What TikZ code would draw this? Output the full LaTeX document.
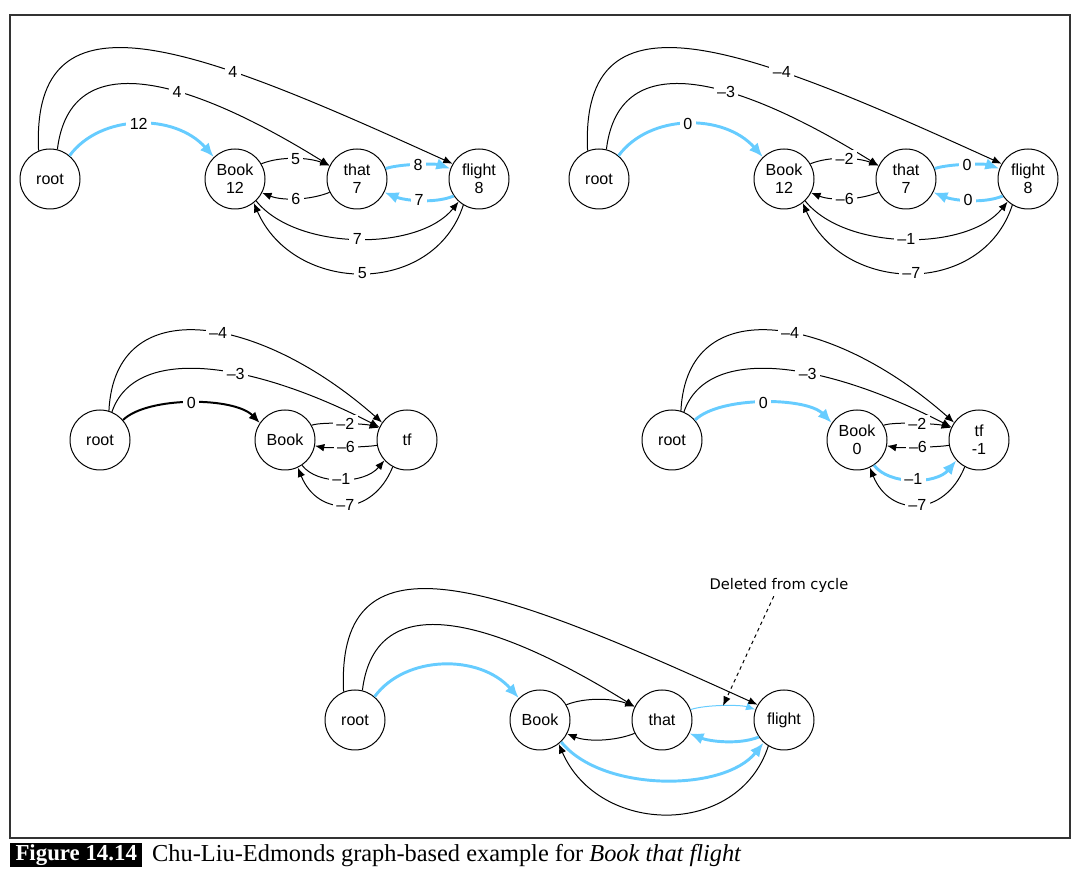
\documentclass[tikz,border=0pt]{standalone}
\usepackage{fontspec}
\setmainfont{Liberation Sans}
\newfontfamily\capfont{Liberation Serif}
\newfontfamily\notefont{DejaVu Sans}
\usetikzlibrary{arrows.meta}
\definecolor{treeblue}{RGB}{102,204,255}
\tikzset{
  word/.style={circle, draw, line width=0.85pt, minimum size=1.8cm, inner sep=0pt,
    align=center, font=\fontsize{13.7}{15.6}\selectfont},
  arc/.style={line width=0.85pt, -{Latex[length=8pt,width=6.5pt]}},
  heavy/.style={line width=1.7pt, -{Latex[length=9.5pt,width=8pt]}},
  best/.style={treeblue, line width=2.5pt, -{Latex[length=12pt,width=10pt]}},
  weak/.style={treeblue, line width=0.85pt, -{Latex[length=8pt,width=6.5pt]}},
  wt/.style={fill=white, text=black, inner sep=3pt, font=\fontsize{13.7}{15.6}\selectfont},
}
\begin{document}
\begin{tikzpicture}[x=0.03cm, y=0.03cm]
  \useasboundingbox (0,0) rectangle (1078,-881);
  % Frame
  \draw[line width=1.1pt, black!80] (10,-15) rectangle (1070,-838);

  % Top left: scores
  \begin{scope}[shift={(50,-179)}]
    \node[word] (rootA) at (0,0) {root};
    \node[word] (bookA) at (185,0) {Book\\12};
    \node[word] (thatA) at (307,0) {that\\7};
    \node[word] (flightA) at (429,0) {flight\\8};
    \draw[arc] (rootA.112) .. controls +(-8,171) and +(-253,115) .. (flightA.150) node[wt,pos=0.67] {4};
    \draw[arc] (rootA.76) .. controls +(13,106) and +(-140,87) .. (thatA.154) node[wt,pos=0.6] {4};
    \draw[best] (rootA.50) .. controls +(31,42) and +(-39,44) .. (bookA.134) node[wt,pos=0.5] {12};
    \draw[arc] (bookA.30) .. controls +(20,8) and +(-20,8) .. (thatA.154) node[wt,pos=0.5] {5};
    \draw[arc] (thatA.206) .. controls +(-20,-8) and +(20,-8) .. (bookA.-27) node[wt,pos=0.5] {6};
    \draw[best] (thatA.20) .. controls +(15,5) and +(-15,5) .. (flightA.160) node[wt,pos=0.5] {8};
    \draw[best] (flightA.214) .. controls +(-20,-8) and +(20,-8) .. (thatA.-26) node[wt,pos=0.5] {7};
    \draw[arc] (bookA.-46) .. controls +(40,-50) and +(-40,-50) .. (flightA.-132) node[wt,pos=0.5] {7};
    \draw[arc] (flightA.-121) .. controls +(-30,-92) and +(40,-92) .. (bookA.-52) node[wt,pos=0.5] {5};
  \end{scope}

  % Top right: reweighted
  \begin{scope}[shift={(599,-179)}]
    \node[word] (rootB) at (0,0) {root};
    \node[word] (bookB) at (185,0) {Book\\12};
    \node[word] (thatB) at (307,0) {that\\7};
    \node[word] (flightB) at (429,0) {flight\\8};
    \draw[arc] (rootB.112) .. controls +(-8,171) and +(-253,115) .. (flightB.150) node[wt,pos=0.67] {--4};
    \draw[arc] (rootB.76) .. controls +(13,106) and +(-140,87) .. (thatB.154) node[wt,pos=0.6] {--3};
    \draw[best] (rootB.50) .. controls +(31,42) and +(-39,44) .. (bookB.134) node[wt,pos=0.5] {0};
    \draw[arc] (bookB.30) .. controls +(20,8) and +(-20,8) .. (thatB.154) node[wt,pos=0.5] {--2};
    \draw[arc] (thatB.206) .. controls +(-20,-8) and +(20,-8) .. (bookB.-27) node[wt,pos=0.5] {--6};
    \draw[best] (thatB.20) .. controls +(15,5) and +(-15,5) .. (flightB.160) node[wt,pos=0.5] {0};
    \draw[best] (flightB.214) .. controls +(-20,-8) and +(20,-8) .. (thatB.-26) node[wt,pos=0.5] {0};
    \draw[arc] (bookB.-46) .. controls +(40,-50) and +(-40,-50) .. (flightB.-132) node[wt,pos=0.5] {--1};
    \draw[arc] (flightB.-121) .. controls +(-30,-92) and +(40,-92) .. (bookB.-52) node[wt,pos=0.5] {--7};
  \end{scope}

  % Middle left: contracted cycle
  \begin{scope}[shift={(100,-440)}]
    \node[word] (rootC) at (0,0) {root};
    \node[word] (bookC) at (185,0) {Book};
    \node[word] (tfC) at (307,0) {tf};
    \draw[arc] (rootC.73) .. controls +(6,121) and +(-122,108) .. (tfC.145) node[wt,pos=0.55] {--4};
    \draw[arc] (rootC.67) .. controls +(23,67) and +(-130,67) .. (tfC.155) node[wt,pos=0.6] {--3};
    \draw[heavy] (rootC.41) .. controls +(25,24) and +(-25,26) .. (bookC.146) node[wt,pos=0.5] {0};
    \draw[arc] (bookC.29) .. controls +(12,4) and +(-12,4) .. (tfC.157) node[wt,pos=0.5] {--2};
    \draw[arc] (tfC.190) .. controls +(-10,-2) and +(10,-2) .. (bookC.-11) node[wt,pos=0.5] {--6};
    \draw[arc] (bookC.-56) .. controls +(15,-20) and +(-20,-24) .. (tfC.222) node[wt,pos=0.5] {--1};
    \draw[arc] (tfC.242) .. controls +(-20,-50) and +(20,-50) .. (bookC.-65) node[wt,pos=0.5] {--7};
  \end{scope}

  % Middle right: best tree of the contracted graph
  \begin{scope}[shift={(672,-440)}]
    \node[word] (rootD) at (0,0) {root};
    \node[word] (bookD) at (185,0) {Book\\0};
    \node[word] (tfD) at (307,0) {tf\\-1};
    \draw[arc] (rootD.73) .. controls +(6,121) and +(-122,108) .. (tfD.145) node[wt,pos=0.55] {--4};
    \draw[arc] (rootD.67) .. controls +(23,67) and +(-130,67) .. (tfD.155) node[wt,pos=0.6] {--3};
    \draw[best] (rootD.41) .. controls +(25,24) and +(-25,26) .. (bookD.146) node[wt,pos=0.5] {0};
    \draw[arc] (bookD.29) .. controls +(12,4) and +(-12,4) .. (tfD.157) node[wt,pos=0.5] {--2};
    \draw[arc] (tfD.190) .. controls +(-10,-2) and +(10,-2) .. (bookD.-11) node[wt,pos=0.5] {--6};
    \draw[best] (bookD.-56) .. controls +(15,-20) and +(-20,-24) .. (tfD.222) node[wt,pos=0.5] {--1};
    \draw[arc] (tfD.242) .. controls +(-20,-50) and +(20,-50) .. (bookD.-65) node[wt,pos=0.5] {--7};
  \end{scope}

  % Bottom: expanded tree
  \begin{scope}[shift={(355,-720)}]
    \node[word] (rootE) at (0,0) {root};
    \node[word] (bookE) at (185,0) {Book};
    \node[word] (thatE) at (307,0) {that};
    \node[word] (flightE) at (429,0) {flight};
    \draw[arc] (rootE.112) .. controls +(-8,171) and +(-253,115) .. (flightE.150);
    \draw[arc] (rootE.76) .. controls +(13,106) and +(-140,87) .. (thatE.154);
    \draw[best] (rootE.50) .. controls +(31,42) and +(-39,44) .. (bookE.134);
    \draw[arc] (bookE.30) .. controls +(20,8) and +(-20,8) .. (thatE.154);
    \draw[arc] (thatE.206) .. controls +(-20,-8) and +(20,-8) .. (bookE.-27);
    \draw[weak] (thatE.20) .. controls +(15,5) and +(-15,5) .. (flightE.160) coordinate[pos=0.5] (cut);
    \draw[best] (flightE.214) .. controls +(-20,-8) and +(20,-8) .. (thatE.-26);
    \draw[arc] (flightE.-121) .. controls +(-30,-92) and +(40,-92) .. (bookE.-52);
    \draw[best] (bookE.-46) .. controls +(40,-50) and +(-40,-50) .. (flightE.-132);
  \end{scope}
  \node[font=\notefont\fontsize{12.5}{15}\selectfont] (del) at (779,-585) {Deleted from cycle};
  \draw[dashed, line width=0.85pt, -{Latex[length=8pt,width=6.5pt]}] (del) -- (cut);

  % Caption
  \node[fill=black, text=white, anchor=north west, inner sep=0pt, minimum width=3.96cm,
    minimum height=0.72cm, font=\capfont\bfseries\fontsize{19.5}{22}\selectfont] (fig) at (10,-843) {Figure 14.14};
  \node[anchor=base west, inner sep=0pt, font=\capfont\fontsize{20.8}{24}\selectfont] (cap) at (152,-861)
    {Chu-Liu-Edmonds graph-based example for \textit{Book that flight}};
\end{tikzpicture}
\end{document}
